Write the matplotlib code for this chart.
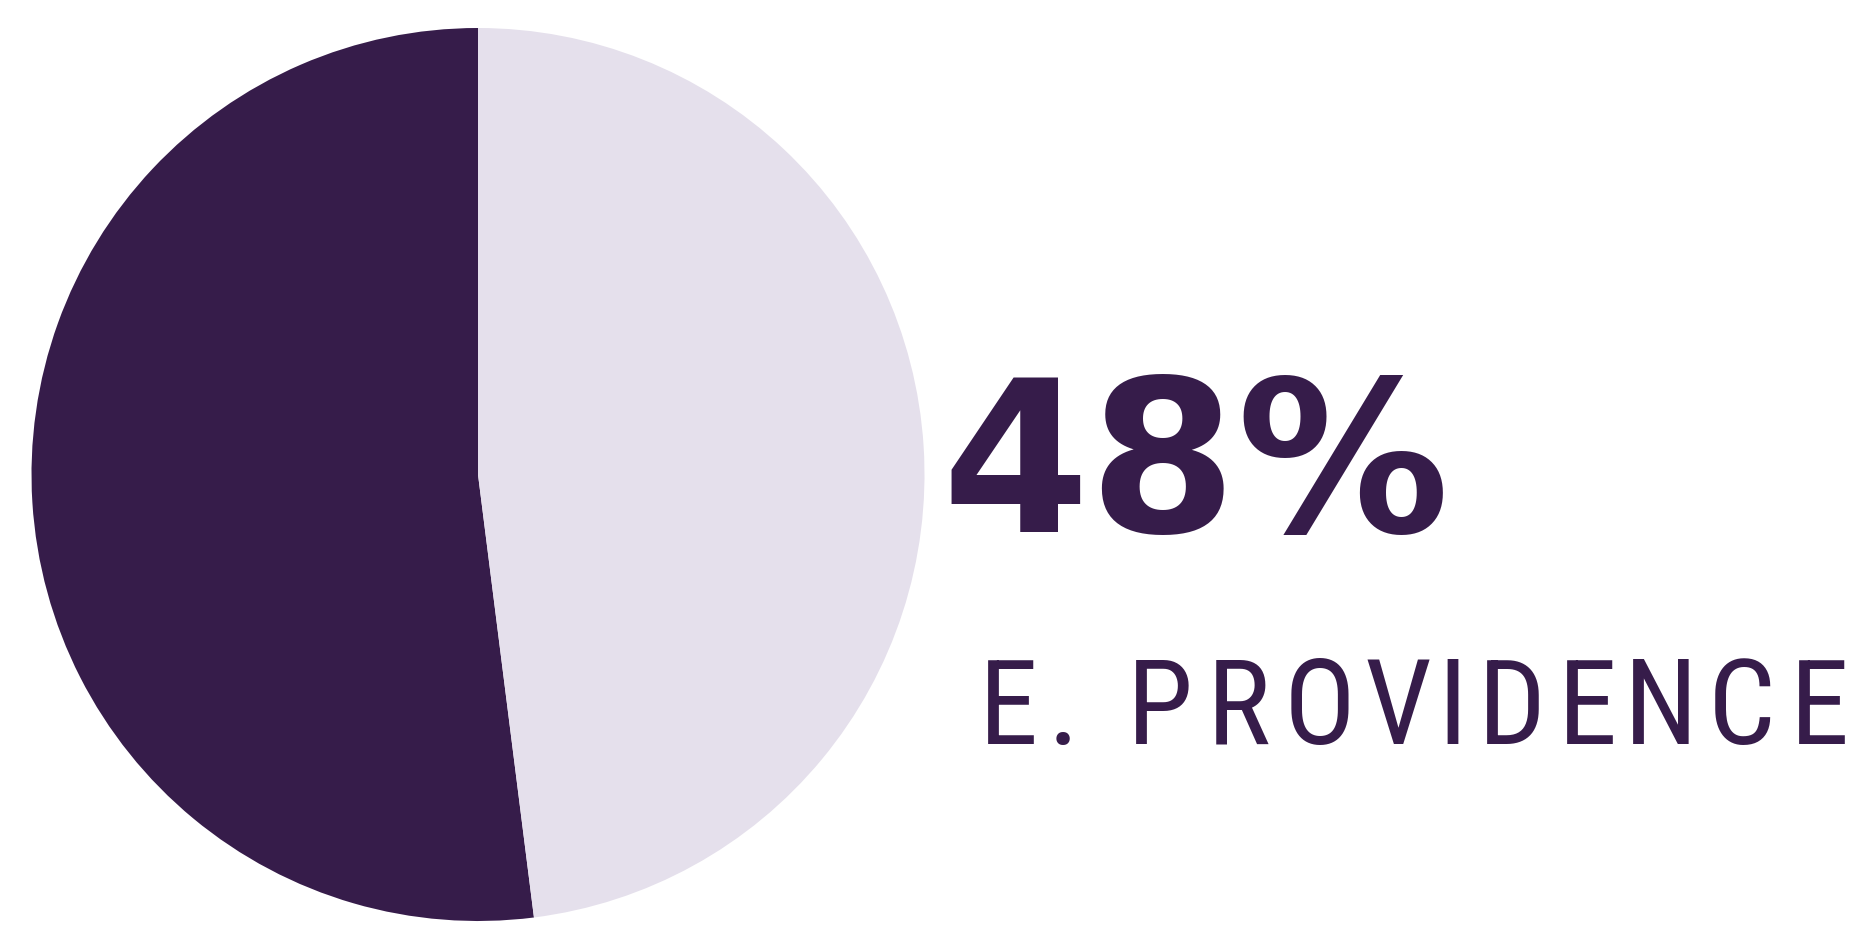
import matplotlib
matplotlib.use("Agg")
import matplotlib.pyplot as plt
from matplotlib import font_manager

# data
labels = ["Other", "E. Providence"]
shares = [52, 48]
colors = ["#361C4A", "#E5E0EC"]
headline = "48%"
caption = "E. PROVIDENCE"
# centre of each caption letter (px); the caption is widely tracked
caption_x = [1009, 1063, 1160, 1238, 1320, 1398, 1452, 1512, 1588, 1661, 1742, 1820]

W, H = 1860, 934
fig = plt.figure(figsize=(W / 100, H / 100), dpi=100)
fig.patch.set_facecolor("white")

ax = fig.add_axes([31 / W, (H - 921) / H, 894 / W, 893 / H])
ax.pie(shares, colors=colors, startangle=90, counterclock=True,
       wedgeprops=dict(linewidth=0))
ax.set_xlim(-1, 1)
ax.set_ylim(-1, 1)
ax.axis("off")

dark = colors[0]
fig.text(1196 / W, 1 - 532 / H, headline, fontsize=153, fontweight="bold",
         family="DejaVu Sans", color=dark, ha="center", va="baseline")

names = {f.name for f in font_manager.fontManager.ttflist}
cap_font = "Roboto"
for cand in ["Roboto Condensed", "Liberation Sans Narrow", "Noto Sans Condensed"]:
    if cand in names:
        cap_font = cand
        break
chars = [c for c in caption if c != " "]
for ch, x in zip(chars, caption_x):
    fig.text(x / W, 1 - 744 / H, ch, fontsize=86, family=cap_font,
             color=dark, ha="center", va="baseline")

fig.savefig("out.png", dpi=100, facecolor="white")
